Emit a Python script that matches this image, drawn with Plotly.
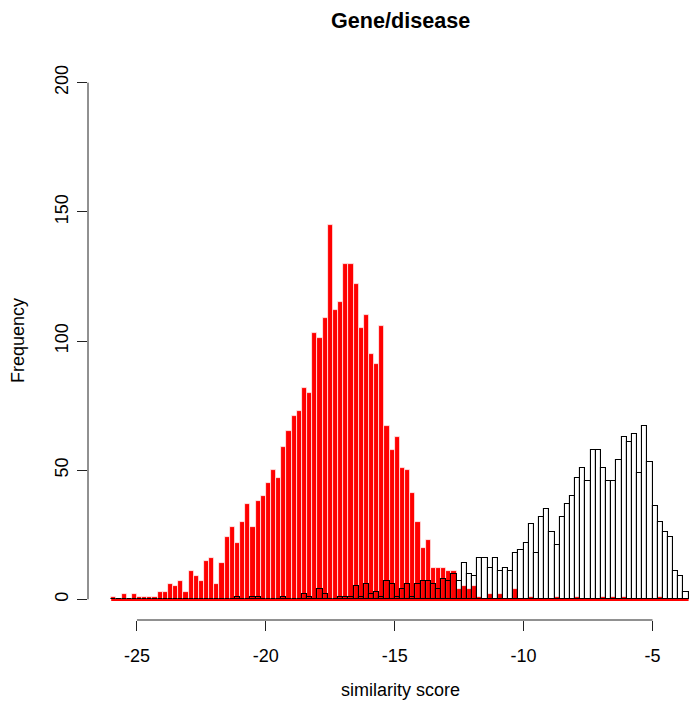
import plotly.graph_objects as go

# histogram breaks: 0.2-wide bins starting at -26.0 (112 bins, up to -3.6)
bin_start = -26.0
bin_width = 0.2

red_counts = [
    1, 0, 2, 0, 2, 1, 1, 1, 1, 3,
    3, 6, 5, 7, 3, 11, 9, 7, 15, 16,
    6, 14, 24, 28, 22, 30, 37, 28, 38, 40,
    45, 50, 47, 59, 65, 71, 73, 82, 80, 103,
    101, 109, 145, 112, 115, 130, 130, 122, 105, 110,
    95, 91, 106, 67, 58, 63, 51, 50, 41, 30,
    20, 23, 12, 12, 12, 11, 11, 4, 5, 4,
    5, 1, 0, 2, 0, 2, 0, 0, 4, 0,
    0, 1, 0, 0, 0, 0, 1, 0, 0, 0,
    1, 0, 0, 0, 0, 1, 0, 1, 0, 1,
    0, 0, 0, 0, 0, 0, 1, 0, 0, 0,
    0, 0,
]

black_counts = [
    0, 0, 0, 0, 0, 0, 0, 0, 0, 0,
    0, 0, 0, 0, 0, 0, 0, 0, 0, 0,
    0, 0, 0, 0, 1, 0, 0, 1, 1, 0,
    0, 0, 0, 1, 0, 0, 0, 2, 1, 0,
    4, 2, 0, 0, 1, 1, 1, 5, 1, 6,
    2, 3, 1, 7, 6, 1, 4, 6, 1, 6,
    7, 7, 6, 4, 8, 7, 10, 7, 14, 10,
    9, 16, 16, 12, 16, 11, 12, 11, 18, 19,
    22, 29, 18, 32, 35, 26, 21, 32, 37, 40,
    47, 51, 46, 58, 58, 51, 46, 46, 54, 63,
    61, 64, 49, 67, 53, 36, 30, 26, 24, 11,
    9, 3,
]

x_ticks = [-25, -20, -15, -10, -5]
y_ticks = [0, 50, 100, 150, 200]

title_text = "Gene/disease"
x_label = "similarity score"
y_label = "Frequency"

n_bins = len(red_counts)
centers = [bin_start + bin_width * (i + 0.5) for i in range(n_bins)]
x_min_break = bin_start
x_max_break = bin_start + bin_width * n_bins

FONT = "Liberation Sans, Arial, Helvetica, sans-serif"
FS = 18

fig = go.Figure()
fig.add_trace(go.Bar(
    x=centers, y=red_counts, width=bin_width,
    marker=dict(color="#ff0000", line=dict(color="rgba(255,255,255,0.9)", width=0.8)),
    showlegend=False, hoverinfo="x+y",
))
fig.add_trace(go.Bar(
    x=centers, y=black_counts, width=bin_width,
    marker=dict(color="rgba(0,0,0,0)", line=dict(color="#000000", width=1.1)),
    showlegend=False, hoverinfo="x+y",
))

W, H = 694, 712
L, R, T, B = 88, 0, 62, 92
pw, ph = W - L - R, H - T - B

def px_x(p):
    return (p - L) / pw

def px_y(p):
    return (H - B - p) / ph

fig.update_layout(
    width=W, height=H,
    margin=dict(l=L, r=R, t=T, b=B, pad=0),
    barmode="overlay", bargap=0,
    plot_bgcolor="white", paper_bgcolor="white",
    font=dict(family=FONT, size=FS, color="#000000"),
    xaxis=dict(
        range=[-26.9, -3.39], showgrid=False, zeroline=False, showline=False,
        tickmode="array", tickvals=x_ticks, ticktext=[str(v) for v in x_ticks],
        ticks="outside", ticklen=10, tickwidth=1, tickcolor="#222222",
        tickfont=dict(size=FS, family=FONT, color="#000000"),
        ticklabelstandoff=9,
    ),
    yaxis=dict(
        range=[-8, 208], showgrid=False, zeroline=False, showline=False,
        tickmode="array", tickvals=y_ticks, ticktext=[str(v) for v in y_ticks],
        ticks="outside", ticklen=10, tickwidth=1, tickcolor="#222222",
        tickangle=-90,
        tickfont=dict(size=FS, family=FONT, color="#000000"),
        ticklabelstandoff=2,
    ),
    shapes=[
        dict(type="line", xref="x", yref="paper", x0=x_ticks[0], x1=x_ticks[-1], y0=0, y1=0,
             line=dict(color="#222222", width=1)),
        dict(type="line", xref="paper", yref="y", x0=0, x1=0, y0=y_ticks[0], y1=y_ticks[-1],
             line=dict(color="#222222", width=1)),
        dict(type="line", xref="x", yref="y", x0=x_min_break, x1=x_max_break, y0=-0.25, y1=-0.25,
             line=dict(color="#ff0000", width=2), layer="above"),
    ],
    annotations=[
        dict(text="<b>" + title_text + "</b>", xref="paper", yref="paper",
             x=px_x(400), y=px_y(20), xanchor="center", yanchor="middle",
             showarrow=False, font=dict(size=21.6, family=FONT, color="#000000")),
        dict(text=x_label, xref="paper", yref="paper",
             x=px_x(400), y=px_y(690), xanchor="center", yanchor="middle",
             showarrow=False, font=dict(size=FS, family=FONT, color="#000000")),
        dict(text=y_label, xref="paper", yref="paper",
             x=px_x(18), y=px_y(341), xanchor="center", yanchor="middle",
             textangle=-90, showarrow=False, font=dict(size=FS, family=FONT, color="#000000")),
    ],
)

fig.write_html(
    "out.html",
    config={"displayModeBar": False},
    post_script="document.body.style.margin='0px';",
)
